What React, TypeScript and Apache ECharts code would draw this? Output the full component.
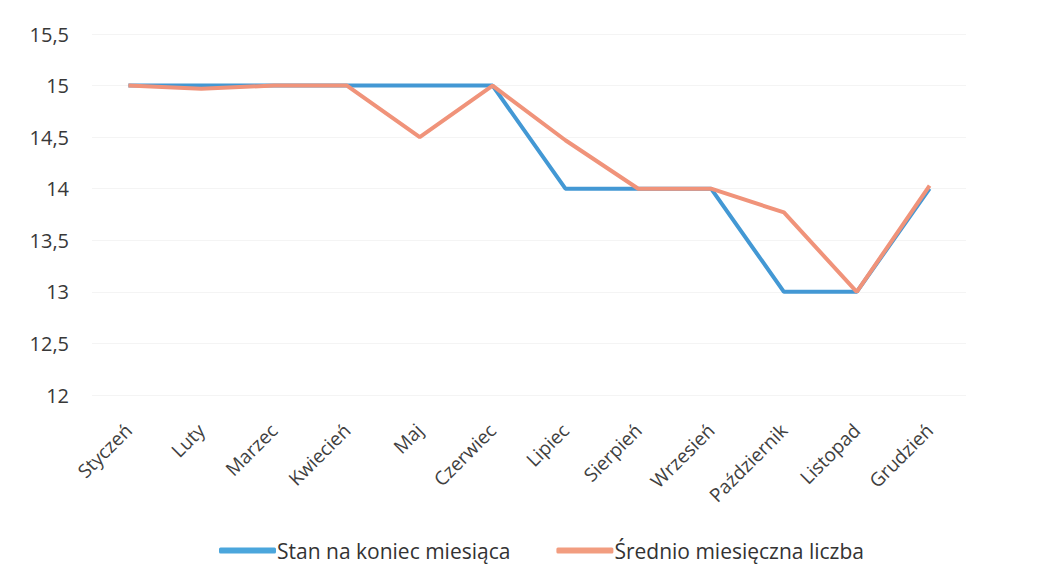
import React, { useEffect, useRef } from "react";
import * as echarts from "echarts";

const categories = [
  "Styczeń", "Luty", "Marzec", "Kwiecień", "Maj", "Czerwiec",
  "Lipiec", "Sierpień", "Wrzesień", "Październik", "Listopad", "Grudzień",
];
const stanNaKoniec = [15, 15, 15, 15, 15, 15, 14, 14, 14, 13, 13, 14];
const sredniaMiesieczna = [15, 14.97, 15, 15, 14.5, 15, 14.47, 14, 14, 13.77, 13, 14.03];
const seriesNames = ["Stan na koniec miesiąca", "Średnio miesięczna liczba"];

const FONT = "'Open Sans', 'Noto Sans', sans-serif";

export default function App() {
  const ref = useRef<HTMLDivElement>(null);
  useEffect(() => {
    if (!ref.current) return;
    const chart = echarts.init(ref.current, undefined, { renderer: "svg" });
    chart.setOption({
      animation: false,
      backgroundColor: "#ffffff",
      grid: { left: 84, right: 77, top: 26, bottom: 177, containLabel: false },
      legend: {
        bottom: 6,
        left: 206,
        icon: "roundRect",
        itemWidth: 57,
        itemHeight: 6,
        itemGap: 46,
        textStyle: { fontFamily: FONT, fontSize: 21, color: "#333", padding: [0, 0, 0, -4] },
        data: seriesNames,
      },
      xAxis: {
        type: "category",
        data: categories,
        boundaryGap: true,
        axisLine: { show: false },
        axisTick: { show: false },
        axisLabel: {
          rotate: 45,
          margin: 32,
          fontFamily: FONT,
          fontSize: 19,
          color: "#404040",
          interval: 0,
        },
      },
      yAxis: {
        type: "value",
        min: 12,
        max: 15.5,
        interval: 0.5,
        axisLine: { show: false },
        axisTick: { show: false },
        splitLine: { lineStyle: { color: "#f4f4f4", width: 1 } },
        axisLabel: {
          margin: 23,
          fontFamily: FONT,
          fontSize: 20,
          color: "#383838",
          formatter: (v: number) => String(v).replace(".", ","),
        },
      },
      series: [
        {
          name: seriesNames[0],
          type: "line",
          data: stanNaKoniec,
          symbol: "none",
          lineStyle: { width: 4, color: "#4398d4" },
          itemStyle: { color: "#4ba6dc" },
        },
        {
          name: seriesNames[1],
          type: "line",
          data: sredniaMiesieczna,
          symbol: "none",
          lineStyle: { width: 4, color: "#f0937a" },
          itemStyle: { color: "#f29d80" },
        },
      ],
    });
    return () => chart.dispose();
  }, []);
  return <div ref={ref} style={{ width: 1035, height: 564 }} />;
}
